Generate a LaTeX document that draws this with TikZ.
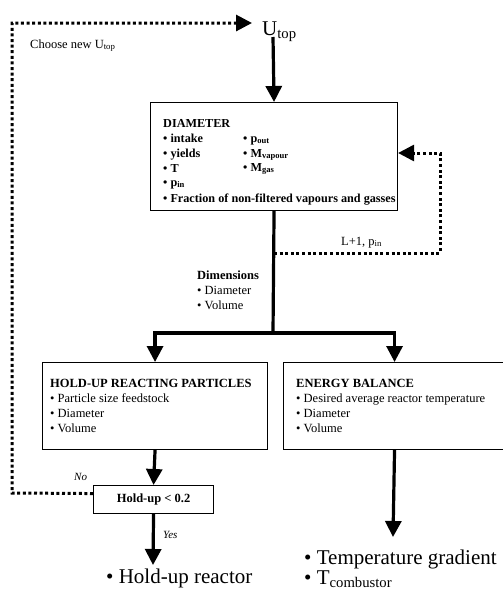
\documentclass[tikz,border=0pt]{standalone}
\usepackage{fontspec}
\setmainfont{Liberation Serif}
\usetikzlibrary{arrows.meta}
\begin{document}
\begin{tikzpicture}[x=1pt,y=-1pt,
  box/.style={draw,line width=1.1pt,inner sep=0pt,anchor=north west},
  flow/.style={line width=3.2pt,-{Triangle[length=16pt,width=16pt]}},
  flowline/.style={line width=3.2pt},
  loop/.style={line width=3pt,dash pattern=on 3pt off 2.6pt,-{Triangle[length=16pt,width=16pt]}},
  loopline/.style={line width=3pt,dash pattern=on 3pt off 2.6pt},
  txt/.style={anchor=base west,inner sep=0pt,font=\fontsize{12.5}{15}\selectfont},
  btxt/.style={anchor=base west,inner sep=0pt,font=\fontsize{12.5}{15}\selectfont\bfseries},
  dtxt/.style={anchor=base west,inner sep=0pt,font=\fontsize{12.2}{15}\selectfont\bfseries},
  itxt/.style={anchor=base west,inner sep=0pt,font=\fontsize{11}{13}\selectfont\itshape},
  big/.style={anchor=base west,inner sep=0pt,font=\fontsize{21}{24}\selectfont}]
\useasboundingbox (0,0) rectangle (503,595);

% ---- top quantity
\node[big] (utop) at (262,35) {U\textsubscript{top}};
\coordinate (ustart) at (273,37);
\node[txt] (choose) at (30,48) {Choose new U\textsubscript{top}};

% ---- diameter block
\node[box,minimum width=247pt,minimum height=108pt] (diam) at (150,102) {};
\node[dtxt] (dtitle) at (163,127) {DIAMETER};
\node[dtxt] (d1) at (163,142) {\textbullet{} intake};
\node[dtxt] (d2) at (163,157) {\textbullet{} yields};
\node[dtxt] (d3) at (163,172) {\textbullet{} T};
\node[dtxt] (d4) at (163,186) {\textbullet{} p\textsubscript{in}};
\node[dtxt] (d5) at (163,202) {\textbullet{} Fraction of non-filtered vapours and gasses};
\node[dtxt] (d6) at (243,142) {\textbullet{} p\textsubscript{out}};
\node[dtxt] (d7) at (243,157) {\textbullet{} M\textsubscript{vapour}};
\node[dtxt] (d8) at (243,171) {\textbullet{} M\textsubscript{gas}};

\draw[flow] (ustart) -- (diam.north);

% ---- feedback to the diameter block
\coordinate (fb) at (440,253);
\coordinate (fbtop) at (440,153);
\draw[loop] (diam.south |- fb) -- (fb) -- (fbtop) -- (diam.east |- fbtop);
\node[txt] (lp) at (341,245) {L+1, p\textsubscript{in}};

% ---- dimensions passed on
\node[btxt] (dim) at (197,279) {Dimensions};
\node[txt] (dim1) at (197,294) {\textbullet{} Diameter};
\node[txt] (dim2) at (197,309) {\textbullet{} Volume};

% ---- hold-up and energy blocks
\node[box,minimum width=225pt,minimum height=87pt] (holdup) at (42,362) {};
\node[btxt] (htitle) at (50,387) {HOLD-UP REACTING PARTICLES};
\node[txt] (h1) at (50,402) {\textbullet{} Particle size feedstock};
\node[txt] (h2) at (50,417) {\textbullet{} Diameter};
\node[txt] (h3) at (50,432) {\textbullet{} Volume};

\node[box,minimum width=222pt,minimum height=87pt] (energy) at (283,362) {};
\node[btxt] (etitle) at (296,387) {ENERGY BALANCE};
\node[txt] (e1) at (296,402) {\textbullet{} Desired average reactor temperature};
\node[txt] (e2) at (296,417) {\textbullet{} Diameter};
\node[txt] (e3) at (296,432) {\textbullet{} Volume};

\coordinate (split) at (273,333);
\draw[flowline] (diam.south) -- (split);
\draw[flow] (split) -| (holdup.north);
\draw[flow] (split) -| (energy.north);

% ---- hold-up check
\node[draw,line width=1.1pt,minimum width=120pt,minimum height=28pt,inner sep=0pt,
      font=\fontsize{12.5}{15}\selectfont\bfseries,anchor=north west] (check) at (93,485) {Hold-up < 0.2};
\draw[flow] (holdup.south) -- (check.north);

\coordinate (bl) at (12,493);
\coordinate (tl) at (12,23);
\draw[loop] ([yshift=6pt]check.west) -- (bl) -- (tl) -- ([xshift=-10pt]utop.west |- tl);
\node[itxt] (no) at (74,480) {No};

\coordinate (yesend) at (153,565);
\draw[flow] (check.south) -- (yesend);
\node[itxt] (yes) at (163,538) {Yes};

% ---- results
\node[big] (res1) at (106,583) {\textbullet{} Hold-up reactor};
\coordinate (eend) at (393,537);
\draw[flow] (energy.south) -- (eend);
\node[big] (res2) at (304,564) {\textbullet{} Temperature gradient};
\node[big] (res3) at (304,584) {\textbullet{} T\textsubscript{combustor}};
\end{tikzpicture}
\end{document}
